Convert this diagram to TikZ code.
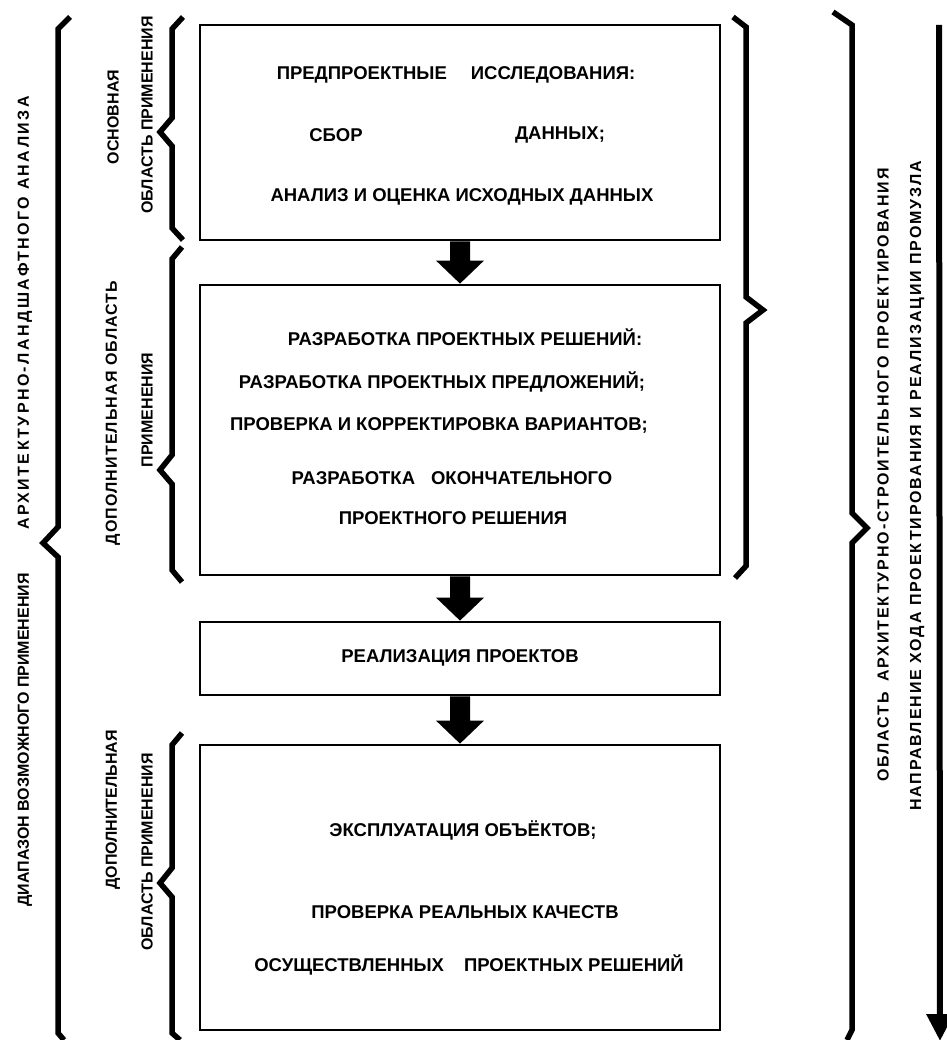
\documentclass[tikz,border=0pt]{standalone}
\usepackage{fontspec}
\setmainfont{Liberation Sans}
\usetikzlibrary{calc,arrows.meta}
\newcommand\blockarrow[2]{%
  \fill ($(#1.south)+(-10,0)$) -- ($(#2.north)+(-10,-23)$) -- ($(#2.north)+(-24,-23)$)
    -- (#2.north) -- ($(#2.north)+(24,-23)$) -- ($(#2.north)+(10,-23)$)
    -- ($(#1.south)+(10,0)$) -- cycle;}
\begin{document}
\begin{tikzpicture}[x=1pt,y=-1pt,
  box/.style={draw, line width=2.8pt, inner sep=0pt},
  txt/.style={inner sep=0pt, font=\fontsize{18.5}{21}\selectfont\bfseries},
  vtxt/.style={inner sep=0pt, rotate=90, font=\fontsize{16}{19}\selectfont\bfseries},
  brace/.style={line width=5.5pt, line join=miter, line cap=butt}]
\useasboundingbox (0,0) rectangle (946,1040);
\fill[white] (0,0) rectangle (946,1040);

% boxes
\node[box, minimum width=520pt, minimum height=215pt] (b1) at (460,132.5) {};
\node[box, minimum width=520pt, minimum height=290pt] (b2) at (460,430) {};
\node[box, minimum width=520pt, minimum height=73pt] (b3) at (460,658.5) {};
\node[box, minimum width=520pt, minimum height=285pt] (b4) at (460,887.5) {};

% block arrows
\blockarrow{b1}{b2}
\blockarrow{b2}{b3}
\blockarrow{b3}{b4}

% box 1 text
\node[txt] (t11) at (456,75) {ПРЕДПРОЕКТНЫЕ\hspace{24pt}ИССЛЕДОВАНИЯ:};
\node[txt] (t12a) at (336,135) {СБОР};
\node[txt] (t12b) at (560,135) {ДАННЫХ;};
\node[txt] (t13) at (462,197) {АНАЛИЗ И ОЦЕНКА ИСХОДНЫХ ДАННЫХ};

% box 2 text
\node[txt] (t21) at (465,337) {РАЗРАБОТКА ПРОЕКТНЫХ РЕШЕНИЙ:};
\node[txt] (t22) at (442,382) {РАЗРАБОТКА ПРОЕКТНЫХ ПРЕДЛОЖЕНИЙ;};
\node[txt] (t23) at (439,425) {ПРОВЕРКА И КОРРЕКТИРОВКА ВАРИАНТОВ;};
\node[txt] (t24) at (452,478) {РАЗРАБОТКА\hspace{16pt}ОКОНЧАТЕЛЬНОГО};
\node[txt] (t25) at (453,518) {ПРОЕКТНОГО РЕШЕНИЯ};

% box 3 text
\node[txt] (t31) at (460,658) {РЕАЛИЗАЦИЯ ПРОЕКТОВ};

% box 4 text
\node[txt] (t41) at (463,830) {ЭКСПЛУАТАЦИЯ ОБЪЁКТОВ;};
\node[txt] (t42) at (465,912) {ПРОВЕРКА РЕАЛЬНЫХ КАЧЕСТВ};
\node[txt] (t43) at (469,965) {ОСУЩЕСТВЛЕННЫХ\hspace{20pt}ПРОЕКТНЫХ РЕШЕНИЙ};

% left braces
\draw[brace] (70,17) -- (58,29) -- (58,527) -- (43,543) -- (58,557) -- (58,1033) -- (64,1040);
\draw[brace] (183,17) -- (172,29) -- (172,118) -- (160,132) -- (172,146) -- (172,228) -- (183,240);
\draw[brace] (182,247) -- (172,259) -- (172,455) -- (160,470) -- (172,484) -- (172,570) -- (182,582);
\draw[brace] (182,733) -- (172,745) -- (172,868) -- (160,883) -- (172,897) -- (172,1033) -- (180,1040);

% right braces
\draw[brace] (733,17) -- (746,27) -- (746,297) -- (763,310) -- (746,323) -- (746,566) -- (735,578);
\draw[brace] (833,12) -- (852,25) -- (852,513) -- (867,528) -- (852,543) -- (852,1030) -- (847,1040);

% left vertical texts
\node[vtxt] (l1) at (25,313) {\addfontfeatures{LetterSpace=15}АРХИТЕКТУРНО-ЛАНДШАФТНОГО АНАЛИЗА};
\node[vtxt] (l2) at (25,740) {ДИАПАЗОН ВОЗМОЖНОГО ПРИМЕНЕНИЯ};
\node[vtxt] (l3) at (113,117) {ОСНОВНАЯ};
\node[vtxt] (l4) at (147,115) {ОБЛАСТЬ ПРИМЕНЕНИЯ};
\node[vtxt] (l5) at (113,413) {\addfontfeatures{LetterSpace=7}ДОПОЛНИТЕЛЬНАЯ ОБЛАСТЬ};
\node[vtxt] (l6) at (147,410) {ПРИМЕНЕНИЯ};
\node[vtxt] (l7) at (113,810) {ДОПОЛНИТЕЛЬНАЯ};
\node[vtxt] (l8) at (147,852) {ОБЛАСТЬ ПРИМЕНЕНИЯ};

% right vertical texts
\node[vtxt] (r1) at (883,475) {\addfontfeatures{LetterSpace=12}ОБЛАСТЬ\hspace{10pt}АРХИТЕКТУРНО-СТРОИТЕЛЬНОГО ПРОЕКТИРОВАНИЯ};
\node[vtxt] (r2) at (917,486) {\addfontfeatures{LetterSpace=12}НАПРАВЛЕНИЕ ХОДА ПРОЕКТИРОВАНИЯ И РЕАЛИЗАЦИИ ПРОМУЗЛА};

% direction arrow
\coordinate (atop) at (939,25);
\coordinate (abot) at (940,1041);
\draw[line width=6pt, -{Triangle[width=26pt,length=27pt]}] (atop) -- (abot);
\end{tikzpicture}
\end{document}
